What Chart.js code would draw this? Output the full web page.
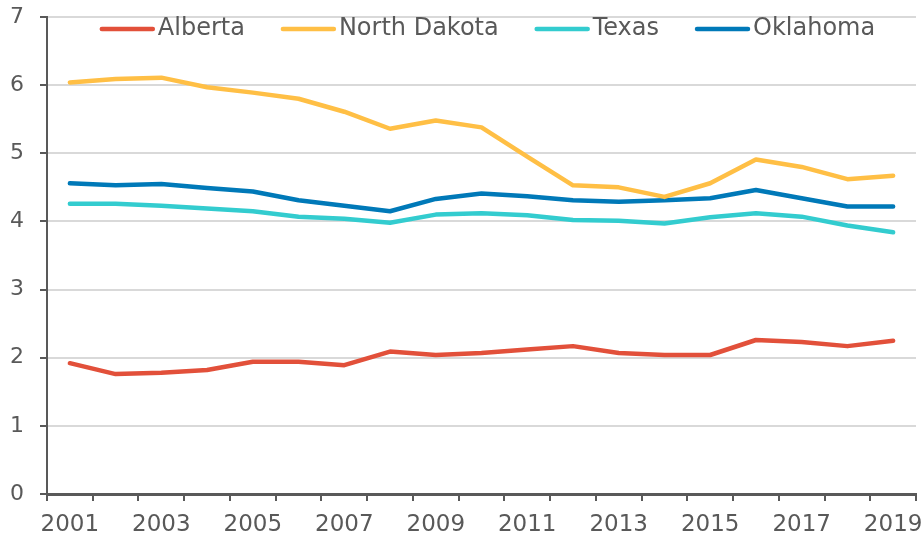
<!DOCTYPE html>
<html>
<head>
<meta charset="utf-8">
<script src="https://cdn.jsdelivr.net/npm/chart.js@4/dist/chart.umd.min.js"></script>
<style>
    body { margin: 0; background: #fff; }
    #wrap { width: 924px; height: 542px; }
</style>
</head>
<body>
<div id="wrap"><canvas id="chart" width="924" height="542"></canvas></div>
<script>
const years = ['2001', '2002', '2003', '2004', '2005', '2006', '2007', '2008', '2009', '2010',
               '2011', '2012', '2013', '2014', '2015', '2016', '2017', '2018', '2019'];

const alberta = [1.92, 1.76, 1.78, 1.82, 1.94, 1.94, 1.89, 2.09, 2.04, 2.07,
                 2.12, 2.17, 2.07, 2.04, 2.04, 2.26, 2.23, 2.17, 2.25];
const northDakota = [6.04, 6.09, 6.11, 5.97, 5.89, 5.80, 5.61, 5.36, 5.48, 5.38,
                     4.95, 4.53, 4.50, 4.36, 4.56, 4.91, 4.80, 4.62, 4.67];
const texas = [4.26, 4.26, 4.23, 4.19, 4.15, 4.07, 4.04, 3.98, 4.10, 4.12,
               4.09, 4.02, 4.01, 3.97, 4.06, 4.12, 4.07, 3.94, 3.84];
const oklahoma = [4.56, 4.53, 4.55, 4.49, 4.44, 4.31, 4.23, 4.15, 4.33, 4.41,
                  4.37, 4.31, 4.29, 4.31, 4.34, 4.46, 4.34, 4.22, 4.22];

const textColor = '#595959';
const axisColor = '#595959';
const gridColor = '#d9d9d9';
const fontFamily = '"DejaVu Sans", Verdana, sans-serif';

function series(label, data, color) {
    return {
        label: label,
        data: data,
        borderColor: color,
        backgroundColor: color,
        borderWidth: 4.5,
        pointRadius: 0,
        tension: 0,
        borderCapStyle: 'round',
        borderJoinStyle: 'round'
    };
}

// legend drawn inside the plot, like the original
const topLegend = {
    id: 'topLegend',
    afterDraw(chart) {
        const ctx = chart.ctx;
        const area = chart.chartArea;
        const lineLen = 55, gap = 3, spacing = 36;
        ctx.save();
        ctx.font = '24px ' + fontFamily;
        const items = chart.data.datasets.map(ds => ({
            label: ds.label, color: ds.borderColor, w: ctx.measureText(ds.label).width
        }));
        let total = items.reduce((s, it) => s + lineLen + gap + it.w, 0) + spacing * (items.length - 1);
        let x = (area.left + area.right) / 2 + 6 - total / 2;
        const y = 29;
        items.forEach(it => {
            ctx.strokeStyle = it.color;
            ctx.lineWidth = 4.5;
            ctx.lineCap = 'round';
            ctx.beginPath();
            ctx.moveTo(x + 2, y);
            ctx.lineTo(x + lineLen - 2, y);
            ctx.stroke();
            ctx.fillStyle = textColor;
            ctx.textBaseline = 'middle';
            ctx.fillText(it.label, x + lineLen + gap, y);
            x += lineLen + gap + it.w + spacing;
        });
        ctx.restore();
    }
};

new Chart(document.getElementById('chart'), {
    type: 'line',
    data: {
        labels: years,
        datasets: [
            series('Alberta', alberta, '#e2503a'),
            series('North Dakota', northDakota, '#ffbf45'),
            series('Texas', texas, '#33cccf'),
            series('Oklahoma', oklahoma, '#0079b8')
        ]
    },
    options: {
        responsive: false,
        animation: false,
        layout: { padding: { left: 8, right: 8, top: 17, bottom: 0 } },
        plugins: {
            legend: { display: false },
            tooltip: { enabled: false }
        },
        scales: {
            x: {
                offset: true,
                grid: {
                    offset: true,
                    drawOnChartArea: true,
                    color: c => c.index === years.length ? gridColor : 'rgba(0,0,0,0)',
                    lineWidth: 2,
                    tickColor: axisColor,
                    tickLength: 7,
                    tickWidth: 2
                },
                border: { color: axisColor, width: 3 },
                ticks: {
                    autoSkip: false,
                    maxRotation: 0,
                    padding: 10,
                    color: textColor,
                    font: { family: fontFamily, size: 23 },
                    callback: function (v, i) { return i % 2 === 0 ? years[i] : ''; }
                },
                afterFit(scale) {
                    scale.paddingRight = 0;
                    scale.paddingLeft = 0;
                    scale.height = 48;
                }
            },
            y: {
                min: 0,
                max: 7,
                grid: {
                    color: c => c.tick.value === 0 ? 'rgba(0,0,0,0)' : gridColor,
                    lineWidth: 2,
                    tickColor: axisColor,
                    tickLength: 7,
                    tickWidth: 2
                },
                border: { color: axisColor, width: 2 },
                ticks: {
                    stepSize: 1,
                    padding: 16,
                    color: textColor,
                    font: { family: fontFamily, size: 22 }
                },
                afterFit(scale) {
                    scale.width = 39;
                    scale.paddingTop = 0;
                    scale.paddingBottom = 0;
                }
            }
        }
    },
    plugins: [topLegend]
});
</script>
</body>
</html>
